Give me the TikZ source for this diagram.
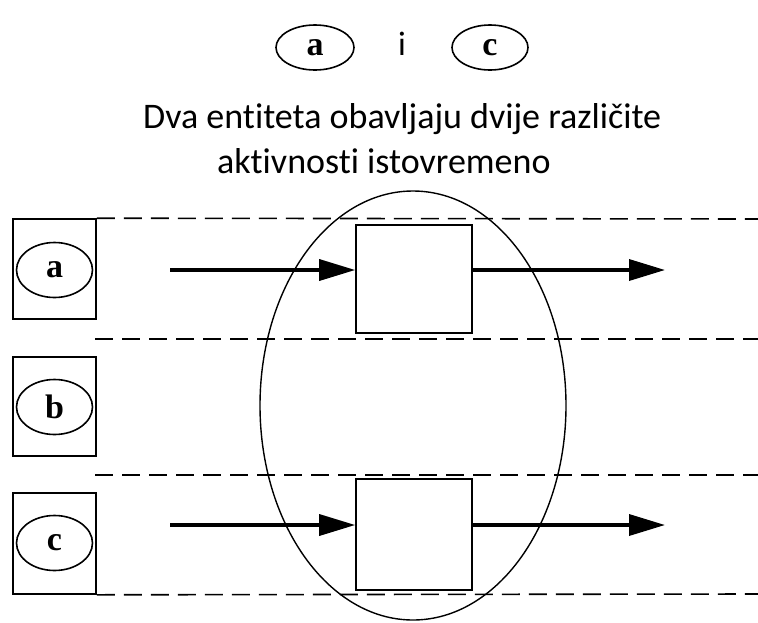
\documentclass[tikz,border=0pt]{standalone}
\usepackage{fontspec}
\setmainfont{Liberation Serif}
\newfontfamily\titlefont[Ligatures={NoCommon}]{Carlito}
\usetikzlibrary{shapes.geometric,arrows.meta}
\begin{document}
\begin{tikzpicture}[x=1pt,y=-1pt,
  lett/.style={ellipse,draw,line width=1.6pt,inner sep=0pt,minimum width=76pt,minimum height=55pt,font=\fontsize{34}{34}\selectfont\bfseries},
  lane/.style={draw,line width=1.6pt,inner sep=0pt,minimum width=83pt,minimum height=100pt},
  actbox/.style={draw,line width=1.6pt,inner sep=0pt,minimum width=116pt},
  dline/.style={line width=1.6pt,dash pattern=on 18pt off 9pt},
  arr/.style={line width=3.5pt,-{Triangle[length=36pt,width=21pt]}},
  ttl/.style={font=\titlefont\fontsize{36}{44}\selectfont,inner sep=0pt,anchor=base west}]
\useasboundingbox (0,0) rectangle (758,622);
% top legend
\node[lett,minimum width=78pt,minimum height=45pt] (ta) at (315,47.5) {a};
\node[font=\titlefont\fontsize{34}{34}\selectfont,inner sep=0pt,anchor=base] (ti) at (402,55) {i};
\node[lett,minimum width=76pt,minimum height=45pt] (tc) at (490,47.5) {c};
% title
\node[ttl] (t1) at (143,128) {Dva entiteta obavljaju dvije različite};
\node[ttl] (t2) at (217,173) {aktivnosti istovremeno};
% lanes
\node[lane] (la) at (54.5,269) {};
\node[lane,minimum height=99pt] (lb) at (54.5,406.5) {};
\node[lane,minimum height=101pt] (lc) at (54.5,543.5) {};
\node[lett] (ea) at (54.5,270) {a};
\node[lett] (eb) at (54.5,407) {b};
\node[lett] (ec) at (54.5,543) {c};
% dashed separators
\coordinate (r1) at (758,219);
\coordinate (m1) at (95,339);
\coordinate (r2) at (758,339);
\coordinate (m2) at (95,475);
\coordinate (r3) at (758,475);
\coordinate (r4) at (758,594);
\draw[dline] (la.north east) -- (r1);
\draw[dline] (m1) -- (r2);
\draw[dline] (m2) -- (r3);
\draw[dline] (lc.south east) -- (r4);
% activity boxes
\node[actbox,minimum height=108pt] (sa) at (414,279) {};
\node[actbox,minimum height=111pt] (sc) at (414,534.5) {};
% arrows
\coordinate (a0) at (170,270);
\coordinate (a1) at (665,270);
\coordinate (c0) at (170,525);
\coordinate (c1) at (665,525);
\draw[arr] (a0) -- (a0 -| sa.west);
\draw[arr] (a0 -| sa.east) -- (a1);
\draw[arr] (c0) -- (c0 -| sc.west);
\draw[arr] (c0 -| sc.east) -- (c1);
% big ellipse
\node[ellipse,draw,line width=1.4pt,inner sep=0pt,minimum width=306pt,minimum height=429pt] (big) at (413,405.5) {};
\end{tikzpicture}
\end{document}
